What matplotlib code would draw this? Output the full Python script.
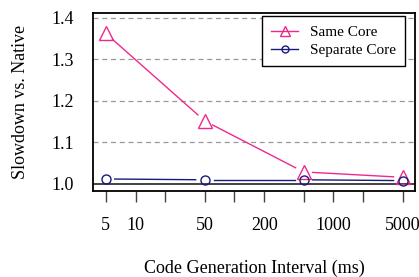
import matplotlib
matplotlib.use("Agg")
import numpy as np
import matplotlib.pyplot as plt

# data
intervals = [5, 50, 500, 5000]
same_core = [1.363, 1.152, 1.029, 1.016]
separate_core = [1.012, 1.010, 1.010, 1.008]

xticks = [5, 10, 20, 50, 100, 200, 500, 1000, 2000, 5000]
xtick_labels = ["5", "10", "", "50", "", "200", "", "1000", "", "5000"]
yticks = [1.0, 1.1, 1.2, 1.3, 1.4]

pink = "#f0288c"
navy = "#1a1a78"

plt.rcParams["font.family"] = ["Liberation Serif", "DejaVu Serif"]

fig = plt.figure(figsize=(4.19, 2.77), dpi=100)
ax = fig.add_axes([0.222, 0.3105, 0.768, 0.6425])
ax.set_xscale("log")
ax.set_xlim(3.72, 6650)
ax.set_ylim(0.983, 1.412)

# grid + reference line at 1.0
for y in yticks[1:]:
    ax.axhline(y, color="#999999", lw=0.9, ls=(0, (4, 3)), zorder=1)
ax.axhline(1.0, color="#222222", lw=1.2, zorder=1)


def gapped_line(xs, ys, color, gap=9):
    # R style type="b": line segments stop short of the points
    tr = ax.transData
    inv = tr.inverted()
    pts = tr.transform(np.column_stack([xs, ys]))
    for p0, p1 in zip(pts[:-1], pts[1:]):
        d = p1 - p0
        L = np.hypot(*d)
        if L <= 2 * gap:
            continue
        u = d / L
        a = inv.transform(p0 + u * gap)
        b = inv.transform(p1 - u * gap)
        ax.plot([a[0], b[0]], [a[1], b[1]], color=color, lw=1.0, zorder=3)


gapped_line(intervals, same_core, pink)
gapped_line(intervals, separate_core, navy)
ax.plot(intervals, same_core, ls="none", marker="^", ms=9.5, mfc="none",
        mec=pink, mew=1.0, zorder=4)
ax.plot(intervals, separate_core, ls="none", marker="o", ms=6.5, mfc="none",
        mec=navy, mew=1.0, zorder=4)

# legend handles
ax.plot([], [], color=pink, marker="^", ms=6.5, mfc="none", lw=1.0, label="Same Core")
ax.plot([], [], color=navy, marker="o", ms=5, mfc="none", lw=1.0, label="Separate Core")
leg = ax.legend(loc="upper right", bbox_to_anchor=(0.969, 0.983), fontsize=11,
                frameon=True, fancybox=False, edgecolor="black", framealpha=1,
                handlelength=1.75, handletextpad=0.75, borderpad=0.6,
                labelspacing=0.3, borderaxespad=0)
leg.get_frame().set_linewidth(1.0)

ax.set_xticks(xticks)
ax.set_xticklabels(xtick_labels)
ax.xaxis.set_minor_locator(matplotlib.ticker.NullLocator())
ax.tick_params(axis="x", length=8, width=1.0, color="#444444", pad=11, labelsize=13)
ax.set_yticks(yticks)
ax.set_yticklabels(["1.0", "1.1", "1.2", "1.3", "1.4"])
ax.tick_params(axis="y", length=0, pad=14, labelsize=13)

for s in ax.spines.values():
    s.set_linewidth(1.3)

ax.set_xlabel("Code Generation Interval (ms)", fontsize=13, labelpad=18)
ax.set_ylabel("Slowdown vs. Native", fontsize=13, labelpad=16)

fig.savefig("out.png", dpi=100)
